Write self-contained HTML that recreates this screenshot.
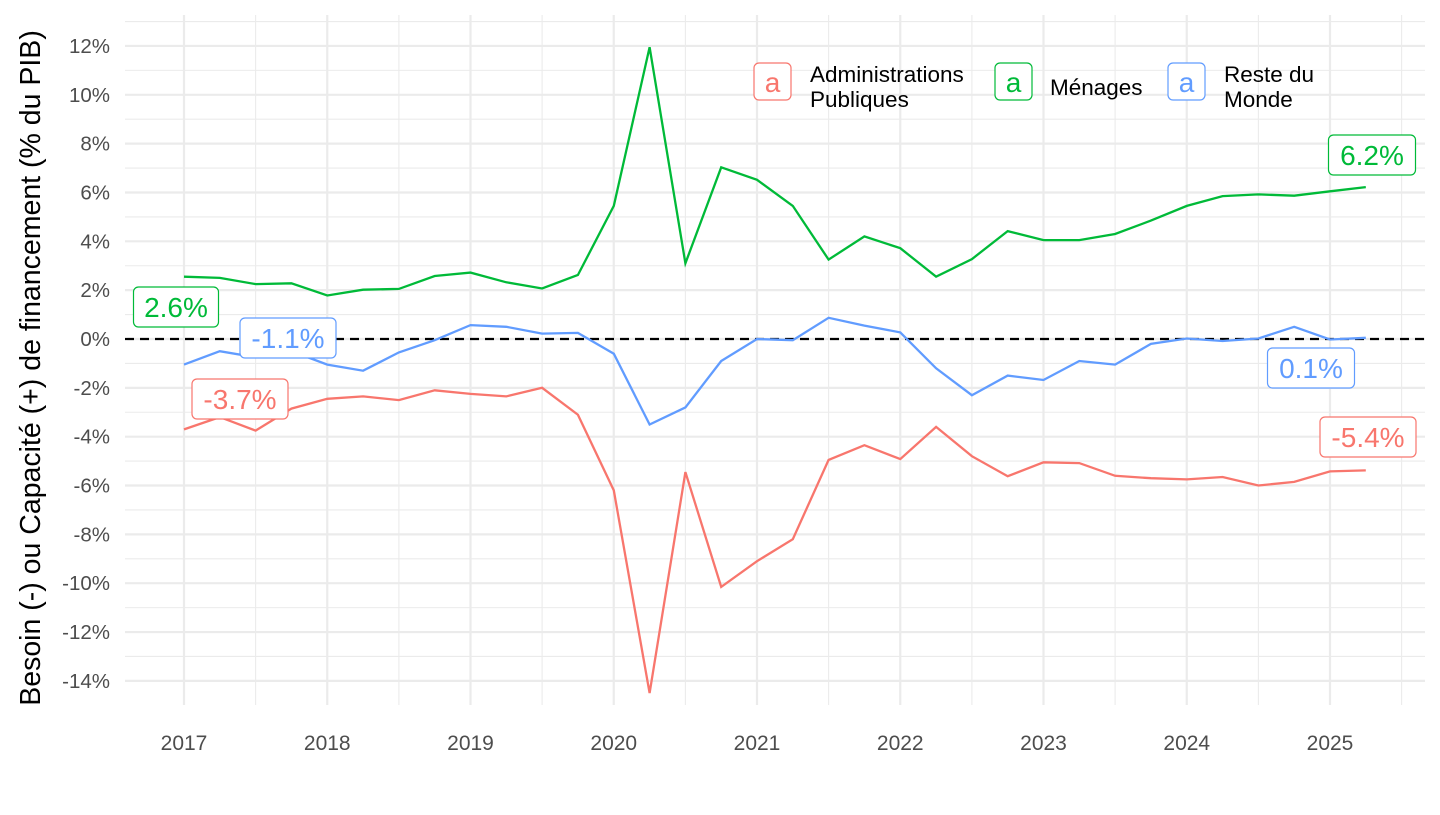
<!DOCTYPE html>
<html><head><meta charset="utf-8"><style>
body{margin:0;background:#fff}
svg text{font-family:"Liberation Sans",Arial,sans-serif}
</style></head><body>
<svg id="c" width="1440" height="810" xmlns="http://www.w3.org/2000/svg"></svg>
<script>
const s=document.getElementById('c');
const X=t=>184+(t-2017)*143.25, Y=v=>339-v*24.42;
let h='';
const L=125,R=1425,T=15,B=705;
for(let v=-15;v<=13;v++){const y=Y(v);if(y<T||y>B)continue;h+=`<line x1="${L}" x2="${R}" y1="${y}" y2="${y}" stroke="#ebebeb" stroke-width="${v%2==0?2.2:1.1}"/>`;}
for(let t=2016.5;t<=2025.6;t+=0.5){const x=X(t);if(x<L||x>R)continue;h+=`<line x1="${x}" x2="${x}" y1="${T}" y2="${B}" stroke="#ebebeb" stroke-width="${t%1==0?2.2:1.1}"/>`;}
for(let v=-14;v<=12;v+=2)h+=`<text x="110" y="${Y(v)+7}" text-anchor="end" font-size="20.5" fill="#4d4d4d">${v}%</text>`;
for(let t=2017;t<=2025;t++)h+=`<text x="${X(t)}" y="750" text-anchor="middle" font-size="21" fill="#4d4d4d">${t}</text>`;
h+=`<text transform="translate(40,368) rotate(-90)" text-anchor="middle" font-size="28.5" fill="#000">Besoin (-) ou Capacité (+) de financement (% du PIB)</text>`;
h+=`<line x1="${L}" x2="${R}" y1="${Y(0)}" y2="${Y(0)}" stroke="#000" stroke-width="2.2" stroke-dasharray="9,6"/>`;
const g=[2.55,2.5,2.25,2.28,1.78,2.02,2.05,2.58,2.72,2.32,2.07,2.62,5.45,11.95,3.1,7.03,6.52,5.45,3.25,4.2,3.72,2.55,3.27,4.42,4.05,4.05,4.3,4.85,5.45,5.85,5.92,5.87,6.05,6.22];
const r=[-3.7,-3.2,-3.75,-2.85,-2.45,-2.35,-2.5,-2.1,-2.25,-2.35,-2.0,-3.1,-6.2,-14.5,-5.45,-10.15,-9.1,-8.2,-4.95,-4.35,-4.92,-3.6,-4.8,-5.62,-5.05,-5.08,-5.6,-5.7,-5.75,-5.65,-6.0,-5.85,-5.42,-5.38];
const b=[-1.05,-0.5,-0.75,-0.5,-1.05,-1.3,-0.55,-0.05,0.57,0.5,0.22,0.25,-0.6,-3.5,-2.8,-0.9,0.0,-0.05,0.87,0.55,0.27,-1.2,-2.3,-1.5,-1.68,-0.9,-1.05,-0.2,0.02,-0.08,0.02,0.5,-0.02,0.05];
const line=(d,c)=>`<polyline fill="none" stroke="${c}" stroke-width="2.3" points="${d.map((v,i)=>X(2017+i/4).toFixed(1)+','+Y(v).toFixed(1)).join(' ')}"/>`;
const RC='#f8766d',GC='#00ba38',BC='#619cff';
h+=line(r,RC)+line(g,GC)+line(b,BC);
const lab=(cx,cy,w,t,c)=>`<rect x="${cx-w/2}" y="${cy-20}" width="${w}" height="40" rx="5" fill="#fff" stroke="${c}" stroke-width="1.2"/><text x="${cx}" y="${cy+10}" text-anchor="middle" font-size="28" fill="${c}">${t}</text>`;
h+=lab(176,307,85,'2.6%',GC)+lab(288,338,96,'-1.1%',BC)+lab(240,399,96,'-3.7%',RC)+lab(1372,155,87,'6.2%',GC)+lab(1311,368,87,'0.1%',BC)+lab(1368,437,96,'-5.4%',RC);
const key=(x,c)=>`<rect x="${x}" y="63" width="37" height="37" rx="5" fill="#fff" stroke="${c}" stroke-width="1.2"/><text x="${x+18.5}" y="92" text-anchor="middle" font-size="28" fill="${c}">a</text>`;
h+=key(754,RC)+key(995,GC)+key(1168,BC);
h+=`<text x="810" y="82" font-size="22.5">Administrations</text><text x="810" y="107" font-size="22.5">Publiques</text>`;
h+=`<text x="1050" y="95" font-size="22.5">Ménages</text>`;
h+=`<text x="1224" y="82" font-size="22.5">Reste du</text><text x="1224" y="107" font-size="22.5">Monde</text>`;
s.innerHTML=h;
</script>
</body></html>
